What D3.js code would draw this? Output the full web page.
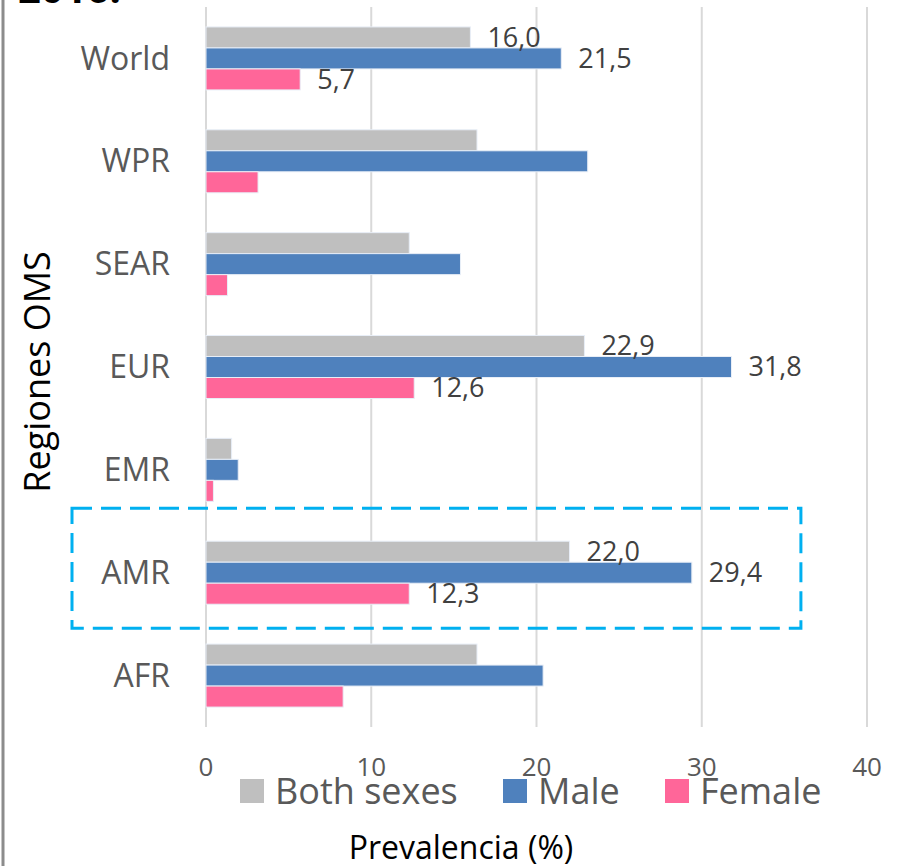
<!DOCTYPE html>
<html>
<head>
<meta charset="utf-8">
<script src="https://cdn.jsdelivr.net/npm/d3@7"></script>
<style>
  body { margin: 0; background: #fff; }
  svg { display: block; font-family: "Open Sans", sans-serif; }
</style>
</head>
<body>
<svg id="chart" width="903" height="866"></svg>
<script>
// regions, top to bottom as drawn
var regions = ["World", "WPR", "SEAR", "EUR", "EMR", "AMR", "AFR"];
var series = ["Both sexes", "Male", "Female"];
var colors = ["#bfbfbf", "#4f81bd", "#ff6699"];

var bothSexes = [16.0, 16.4, 12.3, 22.9, 1.55, 22.0, 16.4];
var male      = [21.5, 23.1, 15.4, 31.8, 1.95, 29.4, 20.4];
var female    = [5.7, 3.15, 1.3, 12.6, 0.45, 12.3, 8.3];

// only these regions carry data labels
var labelled = ["World", "EUR", "AMR"];
var xTicks = [0, 10, 20, 30, 40];
var highlight = "AMR";

var svg = d3.select("#chart");

var x = d3.scaleLinear().domain([0, 40]).range([206, 867]);
var y = d3.scaleBand().domain(regions).range([7, 727])
  .paddingInner(0.3875).paddingOuter(0.19375);
var ySub = d3.scaleBand().domain(series).range([0, y.bandwidth()]);

var rows = regions.map(function(r, i) {
  return { region: r, values: [bothSexes[i], male[i], female[i]] };
});

// left border of the original figure
svg.append("line")
  .attr("x1", 3).attr("x2", 3).attr("y1", 0).attr("y2", 866)
  .attr("stroke", "#8c8c8c").attr("stroke-width", 3);

// clipped title at the very top
svg.append("text")
  .attr("x", 18).attr("y", 3)
  .attr("font-size", 40).attr("font-weight", "bold")
  .attr("fill", "#000")
  .text("2016.");

// gridlines
svg.append("g").selectAll("line")
  .data(xTicks)
  .join("line")
  .attr("x1", function(d) { return x(d); })
  .attr("x2", function(d) { return x(d); })
  .attr("y1", 7).attr("y2", 727)
  .attr("stroke", "#d9d9d9").attr("stroke-width", 2);

// bars
var groups = svg.append("g").selectAll("g")
  .data(rows)
  .join("g")
  .attr("transform", function(d) { return "translate(0," + y(d.region) + ")"; });

groups.selectAll("rect")
  .data(function(d) { return d.values.map(function(v, k) { return { s: series[k], v: v, k: k }; }); })
  .join("rect")
  .attr("x", x(0))
  .attr("y", function(d) { return ySub(d.s); })
  .attr("width", function(d) { return x(d.v) - x(0); })
  .attr("height", ySub.bandwidth())
  .attr("fill", function(d) { return colors[d.k]; })
  .attr("stroke", "#e8eef7").attr("stroke-width", 1);

// data labels
groups.filter(function(d) { return labelled.indexOf(d.region) >= 0; })
  .selectAll("text")
  .data(function(d) { return d.values.map(function(v, k) { return { s: series[k], v: v }; }); })
  .join("text")
  .attr("x", function(d) { return x(d.v) + 17; })
  .attr("y", function(d) { return ySub(d.s) + ySub.bandwidth() / 2; })
  .attr("dy", "0.35em")
  .attr("font-size", 27)
  .attr("fill", "#404040")
  .text(function(d) { return d3.format(".1f")(d.v).replace(".", ","); });

// category labels
svg.append("g").selectAll("text")
  .data(regions)
  .join("text")
  .attr("x", 170)
  .attr("y", function(d) { return y(d) + y.bandwidth() / 2; })
  .attr("dy", "0.35em")
  .attr("font-size", 32)
  .attr("fill", "#595959")
  .text(function(d) { return d; });

svg.selectAll("g text").filter(function(d) { return typeof d === "string"; })
  .attr("text-anchor", "end");

// x tick labels
svg.append("g").selectAll("text")
  .data(xTicks)
  .join("text")
  .attr("x", function(d) { return x(d); })
  .attr("y", 776)
  .attr("text-anchor", "middle")
  .attr("font-size", 26)
  .attr("fill", "#595959")
  .text(function(d) { return d; });

// dashed highlight box around AMR
svg.append("rect")
  .attr("x", 72)
  .attr("y", y(highlight) - 33)
  .attr("width", x(36) - 72)
  .attr("height", 120)
  .attr("fill", "none")
  .attr("stroke", "#00b0f0")
  .attr("stroke-width", 3)
  .attr("stroke-dasharray", "20,9");

// legend
var legendX = [240, 503, 665];
var legend = svg.append("g").selectAll("g")
  .data(series)
  .join("g")
  .attr("transform", function(d, i) { return "translate(" + legendX[i] + ",779)"; });
legend.append("rect")
  .attr("width", 24).attr("height", 24)
  .attr("fill", function(d, i) { return colors[i]; });
legend.append("text")
  .attr("x", 35).attr("y", 12)
  .attr("dy", "0.35em")
  .attr("font-size", 36)
  .attr("fill", "#595959")
  .attr("text-anchor", "start")
  .text(function(d) { return d; });

// axis titles
svg.append("text")
  .attr("x", 461).attr("y", 859)
  .attr("text-anchor", "middle")
  .attr("font-size", 32)
  .attr("fill", "#000")
  .text("Prevalencia (%)");

svg.append("text")
  .attr("transform", "translate(50,372) rotate(-90)")
  .attr("text-anchor", "middle")
  .attr("font-size", 36)
  .attr("fill", "#000")
  .text("Regiones OMS");
</script>
</body>
</html>
